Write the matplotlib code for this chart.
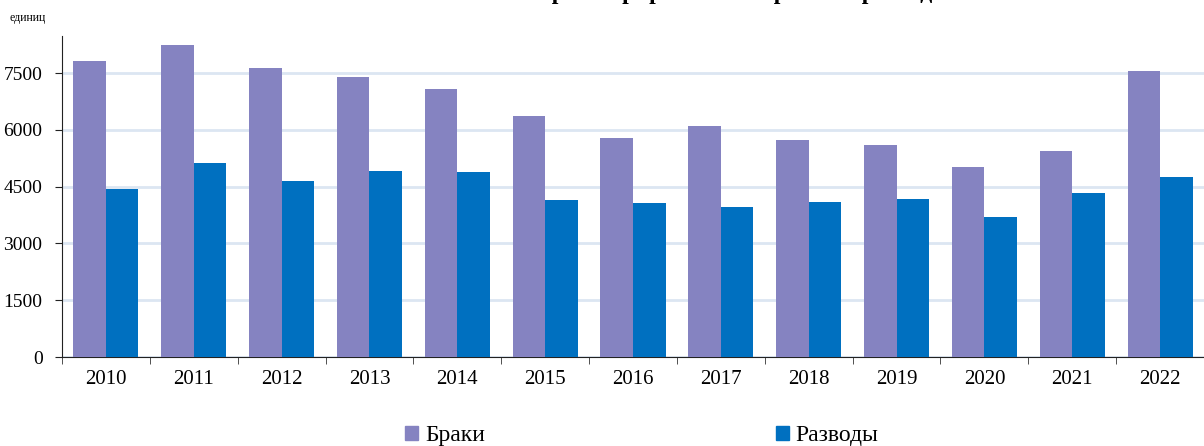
import numpy as np
import matplotlib
matplotlib.use("Agg")
import matplotlib.pyplot as plt
from matplotlib.patches import Patch

years = ["2010", "2011", "2012", "2013", "2014", "2015", "2016",
         "2017", "2018", "2019", "2020", "2021", "2022"]
marriages = [7817, 8240, 7632, 7395, 7078, 6365, 5784, 6101, 5731, 5599, 5018, 5448, 7545]
divorces = [4437, 5124, 4648, 4912, 4886, 4146, 4067, 3962, 4094, 4173, 3697, 4323, 4754]
yticks = [0, 1500, 3000, 4500, 6000, 7500]

C_MAR = "#8583c1"
C_DIV = "#0070c0"
FONT = "Liberation Serif"

plt.rcParams["font.family"] = [FONT, "DejaVu Serif"]

fig = plt.figure(figsize=(12.04, 4.46), dpi=100)
ax = fig.add_axes([62 / 1204, 89 / 446, 1142 / 1204, 321 / 446])

x = np.arange(len(years))
w = 0.37
ax.bar(x - w / 2, marriages, width=w, color=C_MAR, zorder=3)
ax.bar(x + w / 2, divorces, width=w, color=C_DIV, zorder=3)

ax.set_xlim(-0.5, len(years) - 0.5)
ax.set_ylim(0, 8480)
ax.set_yticks(yticks)
ax.set_yticklabels([str(v) for v in yticks], fontsize=14)
ax.tick_params(axis="y", length=5, direction="out", color="#222222", pad=9)
ax.grid(axis="y", color="#dce6f2", linewidth=2, zorder=0)

# year labels centred, ticks on category boundaries
ax.set_xticks(x)
ax.set_xticklabels(years, fontsize=15)
ax.tick_params(axis="x", which="major", length=0, pad=9)
ax.set_xticks(np.arange(len(years) + 1) - 0.5, minor=True)
ax.tick_params(axis="x", which="minor", length=5, direction="out", color="#333333")

for s in ["top", "right"]:
    ax.spines[s].set_visible(False)
ax.spines["left"].set_color("#222222")
ax.spines["bottom"].set_color("#222222")

fig.text(10 / 1204, 1 - 18 / 446, "единиц", fontsize=8.5, va="center", ha="left")
# title is clipped by the top edge in the original
fig.text(707 / 1204, 1 + 1 / 446, "Число зарегистрированных браков и разводов",
         fontsize=17, fontweight="bold", ha="center", va="baseline")

handles = [Patch(color=C_MAR), Patch(color=C_DIV)]
fig.legend(handles, ["Браки", "Разводы"], loc="center", ncol=2,
           bbox_to_anchor=(642 / 1204, 1 - 436 / 446), frameon=False,
           fontsize=17, handlelength=0.55, handleheight=0.55, handletextpad=0.3,
           columnspacing=12.3)

fig.savefig("out.png", dpi=100)
